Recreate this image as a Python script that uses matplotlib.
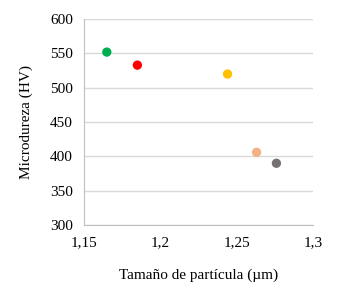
import matplotlib
matplotlib.use("Agg")
import matplotlib.pyplot as plt
from matplotlib.ticker import FuncFormatter

plt.rcParams['font.family'] = ['Liberation Serif', 'DejaVu Serif']

size = [1.165, 1.185, 1.244, 1.263, 1.276]
hardness = [552, 533, 520, 406, 390]
colors = ['#00B050', '#FF0000', '#FFC000', '#F4B183', '#767171']
xticks = [1.15, 1.2, 1.25, 1.3]
yticks = [300, 350, 400, 450, 500, 550, 600]

fig = plt.figure(figsize=(3.51, 2.90), dpi=100)
ax = fig.add_axes([0.239, 0.224, 0.653, 0.710])
ax.scatter(size, hardness, c=colors, s=45, edgecolors='none', zorder=3)
ax.set_xlim(1.15, 1.3)
ax.set_ylim(300, 600)
ax.set_xticks(xticks)
ax.set_yticks(yticks)
ax.xaxis.set_major_formatter(FuncFormatter(lambda v, p: ('%g' % round(v, 3)).replace('.', ',')))
ax.grid(axis='y', color='#D9D9D9', linewidth=1, zorder=0)
for s in ['top', 'right']:
    ax.spines[s].set_visible(False)
for s in ['left', 'bottom']:
    ax.spines[s].set_color('#BFBFBF')
ax.tick_params(length=0, labelsize=11, pad=8)
ax.set_xlabel('Tamaño de partícula (µm)', fontsize=11, labelpad=14)
ax.set_ylabel('Microdureza (HV)', fontsize=11, labelpad=12)
fig.savefig('out.png', dpi=100)
